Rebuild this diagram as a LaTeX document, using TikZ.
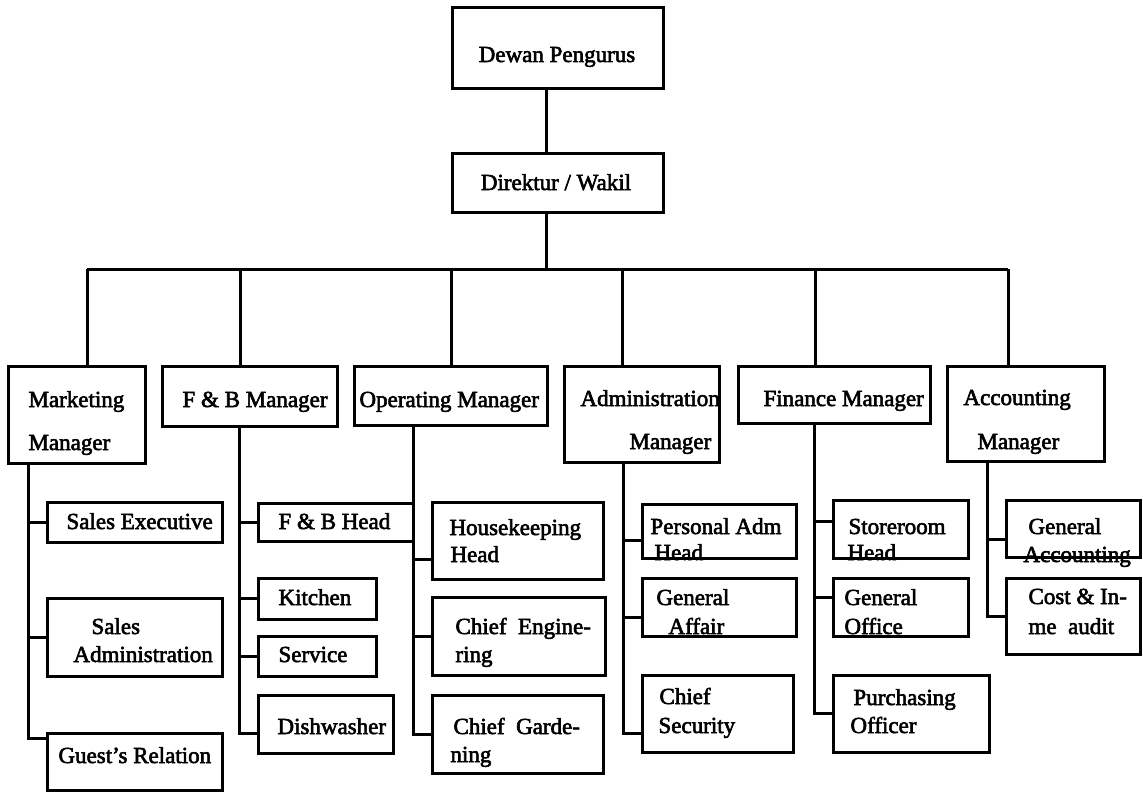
\documentclass[tikz,border=0pt]{standalone}
\usepackage{fontspec}
\usepackage{tikz}
\newfontfamily\orgfont{Liberation Serif}[FakeBold=2.5]

\begin{document}
\begin{tikzpicture}[x=1pt, y=-1pt, line width=3pt,
	box/.style={draw, black, inner sep=0pt, outer sep=0pt},
	lbl/.style={anchor=base west, inner sep=0pt, font=\orgfont\fontsize{23}{28}\selectfont}]
	\useasboundingbox (0,0) rectangle (1143,792);

	\node[box, minimum width=211, minimum height=80] (dp) at (557.5,48) {};
	\node[box, minimum width=211, minimum height=59] (dw) at (557.5,182.5) {};

	\node[box, minimum width=137, minimum height=97] (mm) at (76.5,414.5) {};
	\node[box, minimum width=175, minimum height=60] (fb) at (249.5,396) {};
	\node[box, minimum width=193, minimum height=59] (om) at (450.5,395.5) {};
	\node[box, minimum width=155, minimum height=96] (am) at (641.5,414) {};
	\node[box, minimum width=192, minimum height=57] (fm) at (834,394.5) {};
	\node[box, minimum width=157, minimum height=95] (ac) at (1025.5,413.5) {};

	\node[box, minimum width=175, minimum height=40] (se) at (134.5,522) {};
	\node[box, minimum width=175, minimum height=78] (sa) at (134.5,637) {};
	\node[box, minimum width=175, minimum height=57] (gr) at (134.5,761.5) {};

	\node[box, minimum width=155, minimum height=38] (fh) at (335.5,522) {};
	\node[box, minimum width=118, minimum height=41] (ki) at (317,598.5) {};
	\node[box, minimum width=118, minimum height=40] (sv) at (317,656) {};
	\node[box, minimum width=135, minimum height=58] (dh) at (325.5,724) {};

	\node[box, minimum width=171, minimum height=77] (hk) at (517.5,540.5) {};
	\node[box, minimum width=173, minimum height=78] (ce) at (518.5,636) {};
	\node[box, minimum width=171, minimum height=78] (cg) at (517.5,734) {};

	\node[box, minimum width=154, minimum height=54] (pa) at (719,531) {};
	\node[box, minimum width=154, minimum height=58] (ga) at (719,607) {};
	\node[box, minimum width=151, minimum height=77] (cs) at (717.5,713.5) {};

	\node[box, minimum width=135, minimum height=58] (sh) at (900.5,529) {};
	\node[box, minimum width=135, minimum height=58] (go) at (900.5,607) {};
	\node[box, minimum width=156, minimum height=77] (po) at (911,713.5) {};

	\node[box, minimum width=134, minimum height=57] (gac) at (1073,528.5) {};
	\node[box, minimum width=134, minimum height=76] (ci) at (1073,616) {};

	\coordinate (bt) at (546,269);
	\coordinate (b1) at (87,269);
	\coordinate (b2) at (240,269);
	\coordinate (b3) at (451,269);
	\coordinate (b4) at (622,269);
	\coordinate (b5) at (815,269);
	\coordinate (b6) at (1008,269);

	\draw (dp.south -| bt) -- (dw.north -| bt);
	\draw (dw.south -| bt) -- (bt);
	\draw (b1) -- (b6);
	\foreach \b/\m in {b1/mm, b2/fb, b3/om, b4/am, b5/fm, b6/ac}
	{
		\draw (\b) -- (\b |- \m.north);
	}

	\coordinate (tm) at (28,0);
	\coordinate (tf) at (239,0);
	\coordinate (to) at (413,0);
	\coordinate (ta) at (623,0);
	\coordinate (tn) at (814,0);
	\coordinate (tc) at (987,0);

	\draw (mm.south -| tm) |- ([yshift=-5pt]gr.north west);
	\draw (se.west -| tm) -- (se.west);
	\draw (sa.west -| tm) -- (sa.west);

	\draw (fb.south -| tf) |- ([yshift=-9pt]dh.west);
	\foreach \c in {fh, ki, sv}
	{
		\draw (\c.west -| tf) -- (\c.west);
	}

	\draw (om.south -| to) |- (cg.west);
	\draw ([yshift=-18.5pt]hk.west -| to) -- ([yshift=-18.5pt]hk.west);
	\draw (ce.west -| to) -- (ce.west);

	\draw (am.south -| ta) |- ([yshift=-19.5pt]cs.west);
	\draw ([yshift=-9pt]pa.west -| ta) -- ([yshift=-9pt]pa.west);
	\draw ([yshift=-10pt]ga.west -| ta) -- ([yshift=-10pt]ga.west);

	\draw (fm.south -| tn) |- (po.west);
	\draw ([yshift=8pt]sh.west -| tn) -- ([yshift=8pt]sh.west);
	\draw ([yshift=10pt]go.west -| tn) -- ([yshift=10pt]go.west);

	\draw (ac.south -| tc) |- (ci.west);
	\draw ([yshift=-10.5pt]gac.west -| tc) -- ([yshift=-10.5pt]gac.west);

	\node[lbl, anchor=base] (t-dp) at (557,62) {Dewan Pengurus};
	\node[lbl, anchor=base] (t-dw) at (556,190) {Direktur / Wakil};

	\node[lbl] (t-mm1) at (27,407) {Marketing};
	\node[lbl] (t-mm2) at (27,450) {Manager};
	\node[lbl] (t-fb) at (181,407) {F \& B Manager};
	\node[lbl] (t-om) at (358,407) {Operating Manager};
	\node[lbl] (t-am1) at (579,406) {Administration};
	\node[lbl] (t-am2) at (628,449) {Manager};
	\node[lbl] (t-fm) at (762,406) {Finance Manager};
	\node[lbl] (t-ac1) at (962,405) {Accounting};
	\node[lbl] (t-ac2) at (976,449) {Manager};

	\node[lbl] (t-se) at (65,529) {Sales Executive};
	\node[lbl] (t-sa1) at (90,634) {Sales};
	\node[lbl] (t-sa2) at (72,662) {Administration};
	\node[lbl] (t-gr) at (57,763) {Guest’s Relation};

	\node[lbl] (t-fh) at (277,529) {F \& B Head};
	\node[lbl] (t-ki) at (277,605) {Kitchen};
	\node[lbl] (t-sv) at (277,662) {Service};
	\node[lbl] (t-dh) at (276,734) {Dishwasher};

	\node[lbl] (t-hk1) at (448,535) {Housekeeping};
	\node[lbl] (t-hk2) at (449,562) {Head};
	\node[lbl] (t-ce1) at (454,634) {Chief\enspace Engine-};
	\node[lbl] (t-ce2) at (454,662) {ring};
	\node[lbl] (t-cg1) at (452,734) {Chief\enspace Garde-};
	\node[lbl] (t-cg2) at (449,762) {ning};

	\node[lbl] (t-pa1) at (649,534) {Personal Adm};
	\node[lbl] (t-pa2) at (653,560) {Head};
	\node[lbl] (t-ga1) at (655,605) {General};
	\node[lbl] (t-ga2) at (667,634) {Affair};
	\node[lbl] (t-cs1) at (658,704) {Chief};
	\node[lbl] (t-cs2) at (657,733) {Security};

	\node[lbl] (t-sh1) at (847,534) {Storeroom};
	\node[lbl] (t-sh2) at (846,560) {Head};
	\node[lbl] (t-go1) at (843,605) {General};
	\node[lbl] (t-go2) at (843,634) {Office};
	\node[lbl] (t-po1) at (852,705) {Purchasing};
	\node[lbl] (t-po2) at (849,733) {Officer};

	\node[lbl] (t-gac1) at (1027,534) {General};
	\node[lbl] (t-gac2) at (1022,562) {Accounting};
	\node[lbl] (t-ci1) at (1027,604) {Cost \& In-};
	\node[lbl] (t-ci2) at (1027,634) {me\enspace audit};
\end{tikzpicture}
\end{document}
